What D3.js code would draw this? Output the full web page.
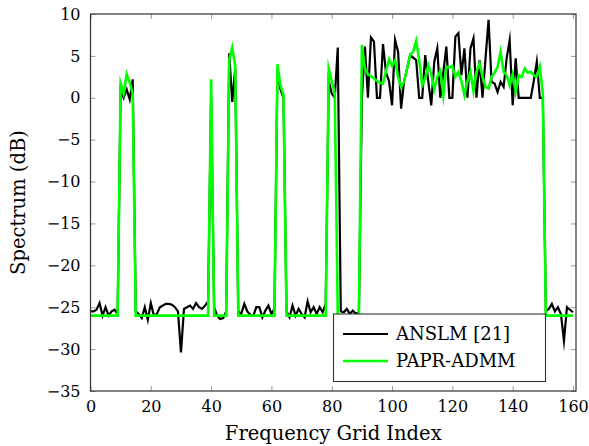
<!DOCTYPE html>
<html><head><meta charset="utf-8">
<script src="https://cdn.jsdelivr.net/npm/d3@7"></script>
<style>body{margin:0;background:#fff}text{font-family:"DejaVu Serif",serif}</style>
</head><body>
<svg id="c" width="589" height="446"></svg>
<script>
const xTicks=[0,20,40,60,80,100,120,140,160];
const yTicks=[10,5,0,-5,-10,-15,-20,-25,-30,-35];
const seriesNames=["ANSLM [21]","PAPR-ADMM"];
// ANSLM [21], index 0..160
const anslm=[
-25.5,-25.5,-25.3,-24.5,-26,-25,-26,-25.5,-25.3,-25.8,
1.0,0,1.0,-0.2,2.2,-25.5,-25.8,-26.3,-25,-26.5,
-24.5,-26,-25.8,-25,-24.8,-24.6,-24.6,-24.7,-25,-25.5,
-30.4,-25.2,-25,-24.8,-25.2,-24.5,-25,-25.2,-24.8,-24.3,
0,-25,-26,-26.4,-26.3,-25.5,5.3,-0.5,3.5,-25.5,
-25.8,-24.6,-25.5,-25.9,-26,-25,-25,-26.2,-25.4,-24.8,
-25.8,-25.2,3.5,1.0,0,-25.5,-26.2,-24.8,-26,-25.2,
-25.8,-26.2,-24.3,-25.6,-25,-25.8,-25,-25.6,-24.6,2.0,
0.5,0,6.0,-25.5,-25.6,-25.2,-25.8,-25.4,-25.8,-25.6,
0,6.1,0,7.2,6.7,0,0,6.4,3.0,2.0,
-0.9,6.9,5.5,-1.3,2.0,3.5,5.1,4.8,4.5,0,
0,5.1,2.0,-0.9,4.3,5.9,0,3.0,6.1,0,
0,7.3,7.7,2.7,5.9,0,5.9,7.1,0,4.5,
0,4.7,9.3,1.9,1.7,0.7,1.9,1.3,4.7,6.9,
-0.9,4.7,0,0,0,0,0,2.0,4.3,0,
0,-25.5,-25.2,-24.6,-25.5,-25,-25.8,-29,-25,-25.3,
-25.6];
// PAPR-ADMM, index 0..160
const paprAdmm=[
-26,-26,-26,-26,-26,-26,-26,-26,-26,-26,
1.7,0.5,2.8,1.8,0.5,-26,-26,-26,-26,-26,
-26,-26,-26,-26,-26,-26,-26,-26,-26,-26,
-26,-26,-26,-26,-26,-26,-26,-26,-26,-26,
2.2,-26,-26,-26,-26,-26,4.5,6.0,3.8,-26,
-26,-26,-26,-26,-26,-26,-26,-26,-26,-26,
-26,-26,4.0,1.5,0.3,-26,-26,-26,-26,-26,
-26,-26,-26,-26,-26,-26,-26,-26,-26,3.5,
2.0,0.5,-26,-26,-26,-26,-26,-26,-26,-26,
6.3,3.5,2.8,2.6,2.3,2.0,1.8,1.7,3.2,4.6,
3.8,4.5,2.5,1.3,1.9,3.5,5.1,5.5,6.8,4.5,
1.5,2.3,3.9,2.8,1.0,2.5,3.2,0.3,3.7,3.6,
3.8,2.5,3.1,2.0,0.3,2.0,3.1,0.8,3.1,4.1,
2.5,1.3,1.1,2.5,3.0,3.7,5.5,3.1,2.7,1.5,
2.8,0.7,2.7,2.5,3.5,3.0,3.1,2.7,2.5,3.7,
0.5,-26,-26,-26,-26,-26,-26,-26,-26,-26,
-26];

const L=90.5,R=576,T=14,B=391;
const svg=d3.select("#c");
const x=d3.scaleLinear().domain([0,161]).range([L,R]);
const y=d3.scaleLinear().domain([-35,10]).range([B,T]);
const fs=16;

svg.append("defs").append("clipPath").attr("id","clip").append("rect")
 .attr("x",L).attr("y",T).attr("width",R-L).attr("height",B-T);

function styleAxis(g){
  g.select(".domain").remove();
  g.selectAll(".tick line").attr("stroke","#999").attr("stroke-width",1);
  g.selectAll(".tick text").attr("font-family","DejaVu Serif").attr("font-size",fs).attr("fill","#000");
}
const fmt=d=>d<0?"\u2212"+Math.abs(d):String(d);
svg.append("g").attr("transform",`translate(0,${B})`)
 .call(d3.axisBottom(x).tickValues(xTicks).tickFormat(fmt).tickSizeInner(-5).tickSizeOuter(0).tickPadding(10)).call(styleAxis);
svg.append("g").attr("transform",`translate(0,${T})`)
 .call(d3.axisTop(x).tickValues(xTicks).tickFormat("").tickSizeInner(-5).tickSizeOuter(0)).call(styleAxis);
svg.append("g").attr("transform",`translate(${L},0)`)
 .call(d3.axisLeft(y).tickValues(yTicks).tickFormat(fmt).tickSizeInner(-5).tickSizeOuter(0).tickPadding(10)).call(styleAxis);
svg.append("g").attr("transform",`translate(${R},0)`)
 .call(d3.axisRight(y).tickValues(yTicks).tickFormat("").tickSizeInner(-5).tickSizeOuter(0)).call(styleAxis);

const line=d3.line().x((d,i)=>x(i)).y(d=>y(d));
const plot=svg.append("g").attr("clip-path","url(#clip)");
plot.append("path").datum(anslm).attr("d",line).attr("fill","none")
 .attr("stroke","#000").attr("stroke-width",2.2).attr("stroke-linejoin","miter").attr("stroke-miterlimit",10);
plot.append("path").datum(paprAdmm).attr("d",line).attr("fill","none")
 .attr("stroke","#00ff00").attr("stroke-width",2.6).attr("stroke-linejoin","miter").attr("stroke-miterlimit",10);

svg.append("rect").attr("x",L).attr("y",T).attr("width",R-L).attr("height",B-T)
 .attr("fill","none").attr("stroke","#333").attr("stroke-width",1.2);

// legend
const lg=svg.append("g");
lg.append("rect").attr("x",333.5).attr("y",314).attr("width",212).attr("height",67.5)
 .attr("fill","#fff").attr("stroke","#333").attr("stroke-width",1.1);
const lcol=["#000","#00ff00"],lw=[2.2,2.6],ly=[334,361];
seriesNames.forEach((n,k)=>{
  lg.append("line").attr("x1",343).attr("x2",388).attr("y1",ly[k]).attr("y2",ly[k])
    .attr("stroke",lcol[k]).attr("stroke-width",lw[k]);
  lg.append("text").attr("x",396).attr("y",ly[k]).attr("dy","0.35em")
    .attr("font-size",18).text(n);
});

svg.append("text").attr("x",(L+R)/2).attr("y",440).attr("text-anchor","middle")
 .attr("font-size",19.5).text("Frequency Grid Index");
svg.append("text").attr("transform",`translate(25,${(T+B)/2}) rotate(-90)`).attr("text-anchor","middle")
 .attr("font-size",19.5).text("Spectrum (dB)");
</script>
</body></html>
